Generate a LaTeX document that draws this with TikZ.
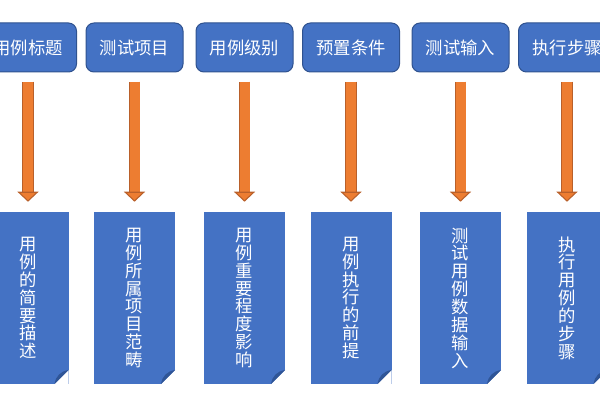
\documentclass[tikz,border=0pt]{standalone}
\usepackage{fontspec}
\newfontfamily\cjk{Noto Sans CJK SC}
\XeTeXlinebreaklocale "zh"
\XeTeXlinebreakskip=0pt plus 1pt
\usetikzlibrary{arrows.meta}
\definecolor{boxblue}{HTML}{4472C4}
\definecolor{boxedge}{HTML}{2F528F}
\definecolor{folddark}{HTML}{2F5597}
\definecolor{arroworange}{HTML}{ED7D31}
\definecolor{arrowedge}{HTML}{B9602A}
\tikzstyle{head} = [rectangle, rounded corners=6pt, fill=boxblue, draw=boxedge, line width=0.75pt, minimum width=72.75pt, minimum height=36.75pt, text=white, font=\cjk\fontsize{13}{15}\selectfont]
\tikzstyle{doc} = [rectangle, fill=boxblue, minimum width=60.75pt, minimum height=129pt, inner sep=0pt, text width=14pt, align=center, text=white, font=\cjk\fontsize{13}{13.4}\selectfont,
  path picture={
    \fill[white] ([xshift=-10.5pt]path picture bounding box.south east) -- ([yshift=10.5pt]path picture bounding box.south east) -- (path picture bounding box.south east) -- cycle;
    \fill[folddark] ([yshift=10.5pt]path picture bounding box.south east) .. controls ([xshift=-6pt,yshift=9.5pt]path picture bounding box.south east) and ([xshift=-9.5pt,yshift=6pt]path picture bounding box.south east) .. ([xshift=-10.5pt]path picture bounding box.south east) -- cycle;
  }]
\tikzstyle{arrow} = [draw=arroworange, line width=7.5pt, -{Triangle[width=15.75pt, length=7.5pt, line width=0.8pt, color=arrowedge, fill=arroworange]}, shorten <=7.5pt, shorten >=7.5pt,
  preaction={draw=arrowedge, line width=8.7pt, shorten <=6.9pt, shorten >=15pt, -}]

\begin{document}
\begin{tikzpicture}[x=0.75pt,y=0.75pt]
\useasboundingbox (0,0) rectangle (600,400);
% top row
\node[head] (title) at (28,352.5) {用例标题};
\node[head] (project) at (134.5,352.5) {测试项目};
\node[head] (level) at (244.5,352.5) {用例级别};
\node[head] (precond) at (351,352.5) {预置条件};
\node[head] (input) at (460.5,352.5) {测试输入};
\node[head] (steps) at (567,352.5) {执行步骤};
% bottom row
\node[doc] (titledoc) at (28,102) {用例的简要描述};
\node[doc] (projectdoc) at (134.5,102) {用例所属项目范畴};
\node[doc] (leveldoc) at (244.5,102) {用例重要程度影响};
\node[doc] (precdoc) at (351,102) {用例执行的前提};
\node[doc] (inputdoc) at (460.5,102) {测试用例数据输入};
\node[doc] (stepsdoc) at (567,102) {执行用例的步骤};
% arrows
\draw[arrow] (title) -- (titledoc);
\draw[arrow] (project) -- (projectdoc);
\draw[arrow] (level) -- (leveldoc);
\draw[arrow] (precond) -- (precdoc);
\draw[arrow] (input) -- (inputdoc);
\draw[arrow] (steps) -- (stepsdoc);
\end{tikzpicture}
\end{document}
